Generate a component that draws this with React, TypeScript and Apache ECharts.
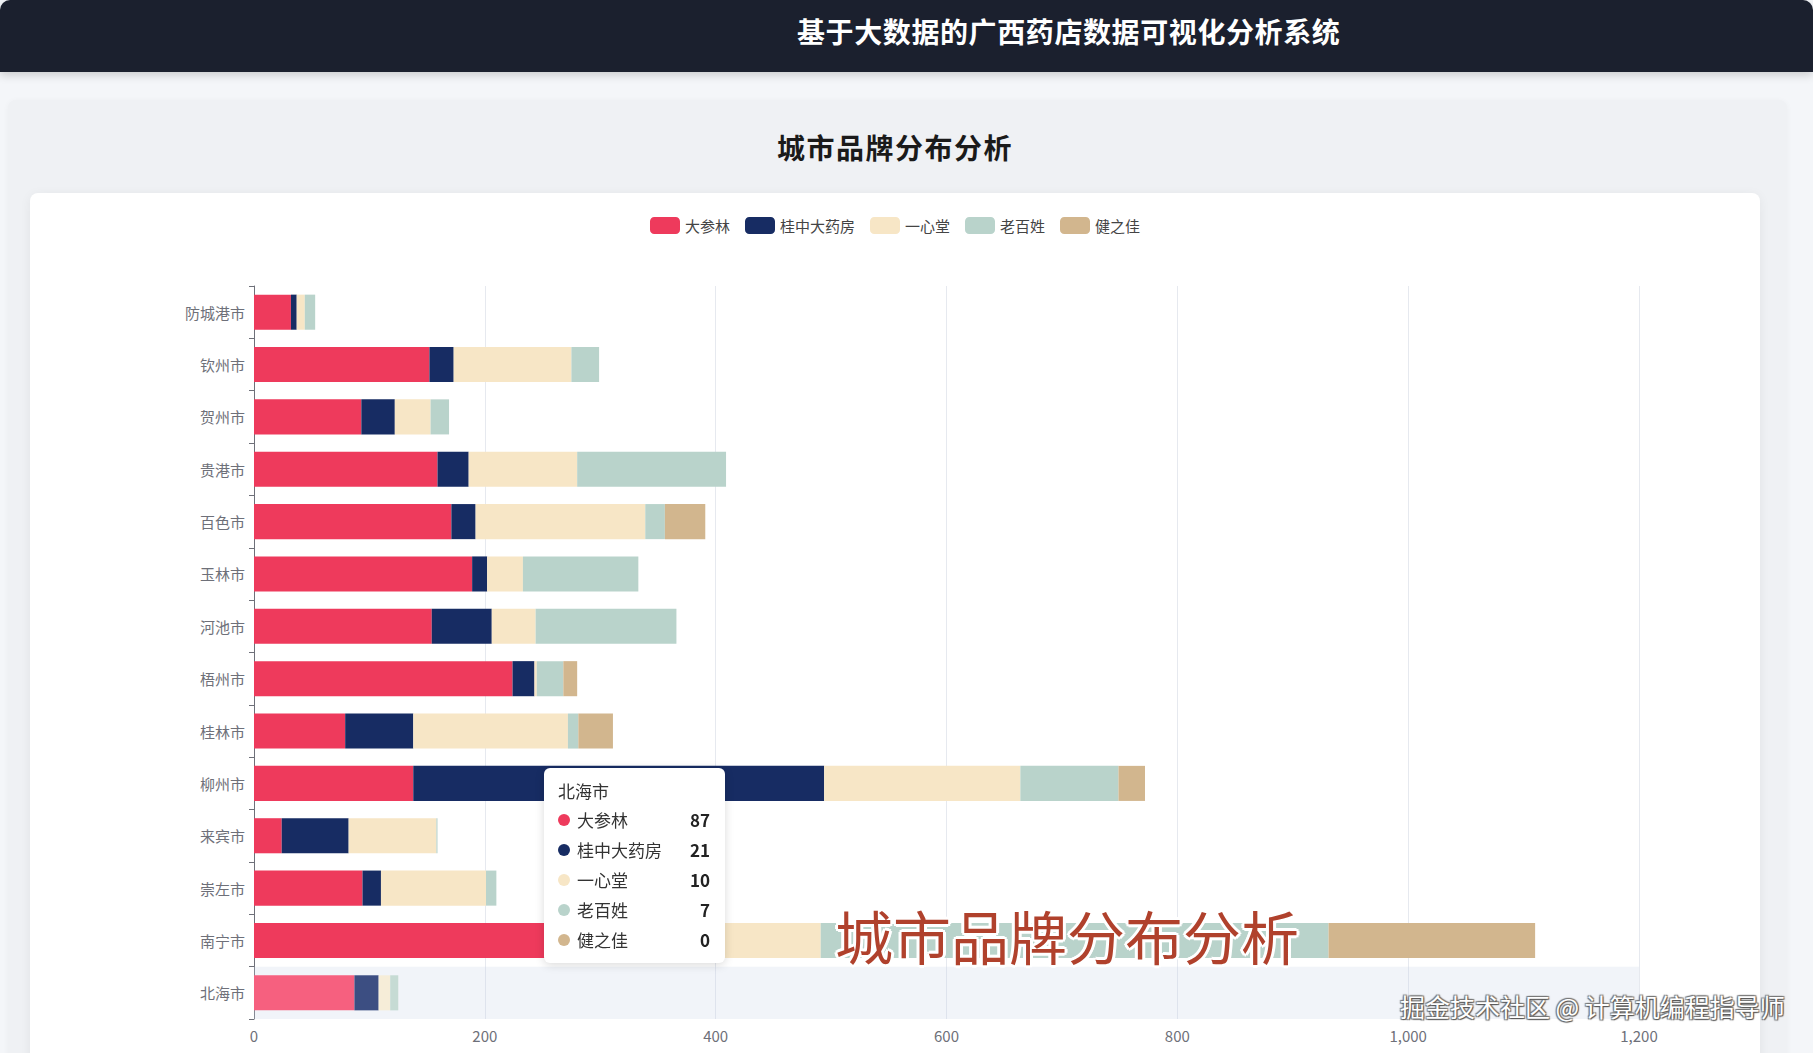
import React, { useEffect, useRef } from 'react';
import * as echarts from 'echarts';

const FONT = '"Noto Sans CJK SC", "Noto Sans", sans-serif';

const cities = ['北海市', '南宁市', '崇左市', '来宾市', '柳州市', '桂林市', '梧州市', '河池市', '玉林市', '百色市', '贵港市', '贺州市', '钦州市', '防城港市'];
const brandNames = ['大参林', '桂中大药房', '一心堂', '老百姓', '健之佳'];
const daShenLin = [87, 285, 94, 24, 138, 79, 224, 154, 189, 171, 159, 93, 152, 32];
const guiZhong = [21, 62, 16, 58, 356, 59, 19, 52, 13, 21, 27, 29, 21, 5];
const yiXinTang = [10, 144, 91, 76, 170, 134, 2, 38, 31, 147, 94, 31, 102, 7];
const laoBaiXing = [7, 440, 9, 1, 85, 9, 23, 122, 100, 17, 129, 16, 24, 9];
const jianZhiJia = [0, 179, 0, 0, 23, 30, 12, 0, 0, 35, 0, 0, 0, 0];
const xMin = 0;
const xMax = 1200;
const xStep = 200;

const brandColors = ['#EE3A5C', '#172C63', '#F7E6C6', '#B9D3CB', '#D2B68E'];
const brandHiColors = ['#F6607F', '#3C4E82', '#F6EDD8', '#C6DBD4', '#DEC8A8'];

export default function App() {
  const ref = useRef<HTMLDivElement>(null);

  useEffect(() => {
    const chart = echarts.init(ref.current!, undefined, { renderer: 'svg' });
    const values = [daShenLin, guiZhong, yiXinTang, laoBaiXing, jianZhiJia];
    const ff = FONT.replace(/"/g, "'");
    chart.setOption({
      animation: false,
      textStyle: { fontFamily: FONT },
      legend: {
        data: brandNames,
        top: 19,
        left: 'center',
        itemWidth: 30,
        itemHeight: 17,
        itemGap: 15,
        icon: 'roundRect',
        textStyle: { fontSize: 15, color: '#444', fontFamily: FONT },
      },
      grid: { left: 224, top: 93, width: 1385, height: 733 },
      tooltip: {
        trigger: 'axis',
        axisPointer: { type: 'shadow', z: 1, shadowStyle: { color: 'rgba(200,210,230,0.25)' } },
        alwaysShowContent: true,
        transitionDuration: 0,
        position: [514, 575],
        padding: [11, 15, 8, 14],
        backgroundColor: '#fff',
        borderWidth: 0,
        borderRadius: 6,
        extraCssText: 'box-shadow: 0 2px 10px rgba(0,0,0,0.15); width: 152px;',
        formatter: (params: any[]) => {
          const head = `<div style="font-size:17px;color:#333;line-height:24px;height:24px;margin-bottom:2px;font-family:${ff}">${params[0].name}</div>`;
          const rows = params
            .map(
              (p: any) =>
                `<div style="height:30px;line-height:30px;font-size:17px;color:#333;display:flex;align-items:center;font-family:${ff}">` +
                `<span style="display:inline-block;width:12px;height:12px;border-radius:50%;background:${brandColors[p.seriesIndex]};margin-right:7px"></span>` +
                `<span style="flex:1">${p.seriesName}</span>` +
                `<span style="font-weight:700;color:#222">${p.value}</span></div>`
            )
            .join('');
          return head + rows;
        },
      },
      xAxis: {
        type: 'value',
        min: xMin,
        max: xMax,
        interval: xStep,
        axisLine: { show: false },
        axisTick: { show: false },
        axisLabel: { fontSize: 15, color: '#6E7079', margin: 9 },
        splitLine: { lineStyle: { color: '#E6E9EF' } },
      },
      yAxis: {
        type: 'category',
        data: cities,
        axisLine: { show: true, lineStyle: { color: '#6E7079' } },
        axisTick: { show: true, length: 5, lineStyle: { color: '#6E7079' } },
        axisLabel: { fontSize: 15, color: '#6E7079', margin: 9 },
      },
      series: brandNames.map((n, i) => ({
        name: n,
        type: 'bar',
        stack: 'total',
        barWidth: '67%',
        z: 3,
        data: values[i],
        itemStyle: { color: brandColors[i] },
        emphasis: { itemStyle: { color: brandHiColors[i] } },
      })),
    });
    chart.dispatchAction({ type: 'highlight', seriesIndex: [0, 1, 2, 3, 4], dataIndex: 0 });
    chart.dispatchAction({ type: 'showTip', seriesIndex: 0, dataIndex: 0 });
    const t = setTimeout(() => {
      chart.dispatchAction({ type: 'showTip', seriesIndex: 0, dataIndex: 0 });
    }, 50);
    return () => {
      clearTimeout(t);
      chart.dispose();
    };
  }, []);

  const outline = '#fff';
  const redShadow = [
    [-3, 0], [3, 0], [0, -3], [0, 3], [-2, -2], [2, -2], [-2, 2], [2, 2],
  ].map(([x, y]) => `${x}px ${y}px 0 ${outline}`).join(', ');

  return (
    <div style={{ position: 'fixed', left: 0, top: 0, width: 1813, height: 1053, overflow: 'hidden', background: '#f4f6f9', fontFamily: FONT }}>
      <div style={{ position: 'absolute', left: 8, top: 100, width: 1779, height: 1000, background: '#eff1f4', borderRadius: 8, boxShadow: '0 1px 6px rgba(0,0,0,0.04)' }} />
      <div style={{ position: 'absolute', left: 0, top: 0, width: 1813, height: 72, background: '#1b202e', borderRadius: '10px 10px 0 0', boxShadow: '0 3px 10px rgba(0,0,0,0.18)', zIndex: 2 }}>
        <div style={{ position: 'absolute', left: 797, top: 11, height: 40, lineHeight: '40px', color: '#fff', fontSize: 28, fontWeight: 700, letterSpacing: 0.6, whiteSpace: 'nowrap' }}>
          基于大数据的广西药店数据可视化分析系统
        </div>
      </div>
      <div style={{ position: 'absolute', left: 8, width: 1774, top: 127, height: 40, lineHeight: '40px', textAlign: 'center', color: '#1a1a1a', fontSize: 28, fontWeight: 700, letterSpacing: 1.5 }}>
        城市品牌分布分析
      </div>
      <div style={{ position: 'absolute', left: 30, top: 193, width: 1730, height: 900, background: '#fff', borderRadius: 8, boxShadow: '0 2px 12px rgba(0,0,0,0.06)' }}>
        <div ref={ref} style={{ position: 'absolute', left: 0, top: 0, width: 1730, height: 860 }} />
      </div>
      <div style={{ position: 'absolute', left: 835, top: 906, height: 58, lineHeight: '58px', fontSize: 58, color: '#B0412C', textShadow: redShadow, whiteSpace: 'nowrap', zIndex: 20, pointerEvents: 'none' }}>
        城市品牌分布分析
      </div>
      <div style={{ position: 'absolute', left: 1400, top: 994, height: 24, lineHeight: '24px', fontSize: 25, color: '#fff', textShadow: '1px 1px 1px #555, -1px -1px 1px #777, 1px -1px 1px #777, -1px 1px 1px #777', whiteSpace: 'nowrap', zIndex: 20, pointerEvents: 'none' }}>
        掘金技术社区 @ 计算机编程指导师
      </div>
    </div>
  );
}
